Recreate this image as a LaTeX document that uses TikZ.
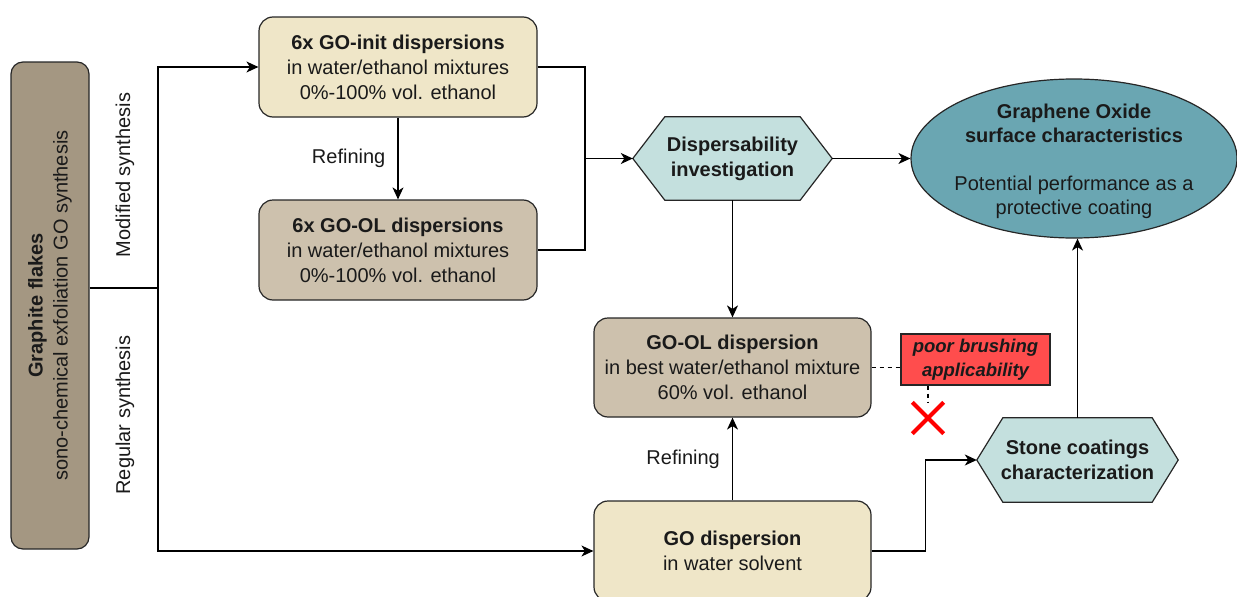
\documentclass[tikz,border=0pt]{standalone}
\usepackage{fontspec}
\setmainfont{Liberation Sans}
\usetikzlibrary{arrows.meta,shapes.geometric,calc,backgrounds}
\definecolor{cgraph}{HTML}{A49782}
\definecolor{cinit}{HTML}{EFE6C8}
\definecolor{cbrown}{HTML}{CDC1AD}
\definecolor{chex}{HTML}{C4E0DE}
\definecolor{cteal}{HTML}{6AA6B2}
\definecolor{cred}{HTML}{FF4D4D}
\definecolor{ctext}{HTML}{1A1A1A}
\newcommand\myfs{\fontsize{20}{25}\selectfont}
\tikzset{
  box/.style={draw=black!85, line width=1.2pt, rounded corners=14pt, minimum width=278pt,
    minimum height=100pt, align=center, inner sep=0pt, font=\myfs, text=ctext},
  hexnode/.style={minimum width=199pt, minimum height=83pt, align=center, inner sep=0pt,
    font=\myfs\bfseries, text=ctext},
  hexshape/.style={draw=black!85, line width=1.2pt, fill=chex},
  lbl/.style={font=\myfs, text=ctext, inner sep=0pt},
  arr/.style={-{Stealth[length=12pt,width=11pt,inset=3.5pt]}, line width=1.3pt},
  conn/.style={line width=1.3pt},
  dashline/.style={line width=1.2pt, dash pattern=on 4pt off 4pt},
}
\begin{document}
\begin{tikzpicture}[x=1pt,y=-1pt]
\useasboundingbox (0,0) rectangle (1237,597);

% graphite
\node[draw=black!85, line width=1.2pt, rounded corners=12pt, fill=cgraph, minimum width=78pt,
  minimum height=487pt, inner sep=0pt] (gr) at (50,305.5) {};
\node[rotate=90, align=center, font=\myfs, text=ctext, inner sep=0pt] (grtext) at (gr.center)
  {\textbf{Graphite flakes}\\sono-chemical exfoliation GO synthesis};

\node[lbl, rotate=90] (modl) at (125,175) {Modified synthesis};
\node[lbl, rotate=90] (regl) at (125,415) {Regular synthesis};

% boxes
\node[box, fill=cinit] (init) at (398,67)
  {\textbf{6x GO-init dispersions}\\in water/ethanol mixtures\\0\%-100\% vol. ethanol};
\node[box, fill=cbrown] (ol) at (398,250)
  {\textbf{6x GO-OL dispersions}\\in water/ethanol mixtures\\0\%-100\% vol. ethanol};
\node[box, fill=cbrown, minimum width=277pt, minimum height=99pt] (gool) at (732.5,367.5)
  {\textbf{GO-OL dispersion}\\in best water/ethanol mixture\\60\% vol. ethanol};
\node[box, fill=cinit, minimum width=277pt] (go) at (732.5,551)
  {\textbf{GO dispersion}\\in water solvent};

% hexagons
\node[hexnode] (disp) at (732.5,158.5) {Dispersability\\investigation};
\node[hexnode, minimum width=201pt, minimum height=84pt] (stone) at (1077.5,460) {Stone coatings\\characterization};
\begin{scope}[on background layer]
\draw[hexshape] (disp.west) -- ($(disp.north west)+(32,0)$) -- ($(disp.north east)+(-32,0)$)
  -- (disp.east) -- ($(disp.south east)+(-32,0)$) -- ($(disp.south west)+(32,0)$) -- cycle;
\draw[hexshape] (stone.west) -- ($(stone.north west)+(26,0)$) -- ($(stone.north east)+(-26,0)$)
  -- (stone.east) -- ($(stone.south east)+(-26,0)$) -- ($(stone.south west)+(26,0)$) -- cycle;
\end{scope}

% ellipse
\node[ellipse, draw=black!85, line width=1.2pt, fill=cteal, minimum width=326pt, minimum height=159pt,
  inner sep=0pt] (gos) at (1074,158.5) {};
\node[align=center, font=\fontsize{20}{24}\selectfont, text=ctext, inner sep=0pt] (gostext) at ($(gos.center)+(0,2.5)$)
  {\textbf{Graphene Oxide}\\\textbf{surface characteristics}\\\mbox{}\\Potential performance as a\\protective coating};

% red box and cross
\node[draw=black!85, line width=1.2pt, fill=cred, minimum width=149pt, minimum height=51pt, inner sep=0pt,
  align=center, font=\fontsize{18.5}{24}\selectfont\bfseries\itshape, text=ctext] (poor) at (975.5,359.5)
  {poor brushing\\applicability};
\node[minimum size=31pt, inner sep=0pt] (cross) at (928,418) {};
\draw[red, line width=4pt] (cross.north west) -- (cross.south east);
\draw[red, line width=4pt] (cross.north east) -- (cross.south west);

% connectors
\coordinate (split) at (158,288);
\coordinate (merge) at (585,158.5);
\draw[conn] (gr.east |- split) -- (split);
\draw[arr] (split) |- (init.west);
\draw[arr] (split) |- (go.west);
\draw[arr] (init.south) -- (ol.north) node[lbl, midway, left=12pt] (ref1) {Refining};
\draw[conn] (init.east) -| (merge);
\draw[conn] (ol.east) -| (merge);
\draw[arr] (merge) -- (disp.west);
\draw[arr] (disp.east) -- (gos.west);
\draw[arr] (disp.south) -- (gool.north);
\draw[arr] (go.north) -- (gool.south) node[lbl, midway, left=12pt] (ref2) {Refining};
\draw[arr] (go.east) -- ++(54,0) |- (stone.west);
\draw[arr] (stone.north) -- (stone.north |- gos.south);
\draw[dashline] (gool.east) -- (gool.east -| poor.west);
\draw[dashline] (poor.south -| cross) -- (cross.north);
\end{tikzpicture}
\end{document}
